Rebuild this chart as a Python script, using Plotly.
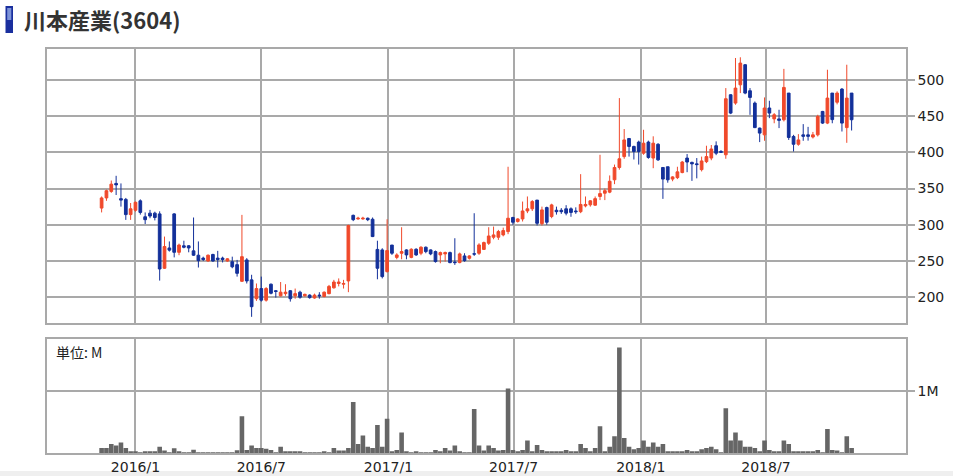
import pandas as pd
import plotly.graph_objects as go

# ---- data (weekly) ----
dates = pd.date_range("2015-11-13", periods=156, freq="7D")

opens = [323, 337, 346, 357, 336, 335, 314, 320, 333, 311, 316, 316, 315, 240, 268, 315, 262, 271, 271, 264,
         258, 254, 250, 259, 254, 254, 250, 249, 245, 222, 251.5, 224, 198, 212, 196, 218, 209, 202, 205, 209,
         202, 207, 202, 203, 199, 203, 201, 205, 213, 219, 218, 222.5, 313, 308, 308, 309, 307.6, 266, 265.3, 235.4,
         272, 255, 260.7, 265.3, 255, 266.2, 260.7, 269, 265.3, 263, 258.4, 259.8, 261.6, 248.5, 247.8, 257, 253.8, 260, 260.7, 266,
         274.5, 282.8, 282.8, 286, 290.6, 310, 304.5, 308, 319, 322, 334, 301.5, 323.7, 311.3, 320, 320, 322, 322, 319, 318,
         326, 327.5, 327, 339, 343.5, 345, 362, 379, 394, 419, 408, 414, 398.7, 414, 392, 411, 379, 380, 363, 365,
         372, 392, 386, 384, 376, 387, 392, 409, 401, 396.5, 479.3, 467.8, 493, 520.7, 484.8, 467.8, 433.3, 424, 461, 446,
         446, 444.8, 481.6, 421.8, 411, 424, 424, 421, 424, 456.3, 440.2, 481.6, 469, 487.1, 434, 481.6]
highs = [339, 348.5, 361, 367.5, 357, 337, 330, 332, 335, 317, 320.5, 318, 318.5, 283.7, 277, 316, 274, 278, 272, 310,
         277, 256, 259, 260, 264, 256, 254, 256, 251.5, 313.6, 254, 231, 219, 228.5, 214, 219, 210, 221, 218, 210,
         212, 209, 205, 204, 205, 207, 208, 217, 224, 226, 224, 300, 314, 311, 311, 310, 310, 278, 267.6, 307.6,
         272, 260.7, 296.6, 266.2, 267.6, 267.6, 270.4, 270, 266, 264.4, 263, 263, 263, 281.4, 261.6, 260.7, 258, 315.9, 274.5, 276.8,
         296.6, 297.5, 292.9, 296, 380, 311, 309, 332, 339, 334, 334, 325, 325, 329, 325, 323, 327, 324, 324, 369.8,
         339, 334, 339, 396.5, 350, 368, 383, 474.7, 432, 419, 409, 416, 431, 416, 422, 412.5, 379, 380, 367, 380,
         388, 397.5, 387, 392, 394, 409, 410, 415, 403, 488.5, 480, 530, 531, 521.6, 488.5, 470, 434, 475.6, 471, 454,
         458.6, 515, 481.6, 424, 425, 438.8, 435, 428, 451.7, 457, 513.8, 481.6, 484, 488.5, 520.7, 481.6]
lows = [317, 333, 344, 341, 325, 306.7, 306.7, 318, 314, 301, 309, 306, 223, 239, 263, 255, 258, 267.5, 262, 257,
        241, 250, 249, 249, 241, 248, 249, 240, 228.5, 221, 219, 173, 195, 194, 194, 204, 199.5, 201, 202, 194,
        198, 198, 201, 198, 198, 198, 200, 204, 212, 215, 212, 207, 305, 307, 307, 305, 283, 224.8, 226, 234,
        258.4, 252.4, 252.4, 252.4, 253.8, 257, 258, 260.7, 258, 247.8, 246.9, 249.2, 246.9, 244.6, 246.9, 249, 252, 257, 258.4, 265.3,
        272.2, 280, 279.1, 284, 287, 300, 303, 304.5, 316, 319, 299, 299, 300, 309, 314, 315, 313, 311, 315, 316,
        324, 325, 326, 334, 334, 343.5, 356, 376, 391, 394, 390, 383, 396.5, 391, 378, 388, 335.7, 358, 360, 363,
        371, 372.5, 360.5, 364, 373.5, 385, 389, 396, 399, 391, 452.6, 465.5, 481.6, 480, 451.6, 433.3, 414, 415.8, 447, 440,
        433.3, 442.5, 417, 401, 409, 415.8, 416, 419, 421.8, 439, 438.8, 440, 466, 428.6, 413, 430]
closes = [337, 347, 356, 355, 334, 314, 322, 331, 317, 307, 312, 310, 239, 270, 265, 262, 272, 269, 268, 258,
          250.5, 252, 258, 250, 252, 252, 253, 242, 233, 256, 222.5, 187, 212, 196, 212, 205.5, 208, 207, 207, 198,
          205, 200, 204, 199.5, 203, 202, 207, 215, 221, 221, 219, 299, 307, 309, 309, 307, 283.7, 240, 228.5, 264.4,
          260.7, 258.4, 263, 258.4, 266.2, 258.4, 269, 263, 259.8, 249.2, 261.6, 261.6, 247.8, 247.8, 259.8, 250.5, 257, 259.5, 272.2, 275.4,
          284.5, 286, 290.6, 292, 309, 303.5, 308, 319, 322, 332, 302, 320.5, 303.5, 327.4, 318, 318, 316, 317, 318, 328,
          328, 333, 336, 343, 347, 360, 379, 391, 417, 408, 401, 401, 412.5, 392.8, 412.5, 389.5, 363, 362, 366, 373,
          386.5, 386.5, 384, 383, 388, 394, 404.5, 398.7, 400, 473.8, 454, 488.5, 523, 481.6, 475.6, 434, 426.4, 461, 454, 451.7,
          444, 489.4, 420.4, 411, 417, 422, 422, 424, 449.4, 440.2, 474.7, 445, 481.6, 440.2, 474.7, 444.8]
volume_k = [80, 80, 145, 120, 170, 80, 30, 20, 10, 30, 30, 30, 100, 40, 10, 75, 20, 10, 10, 53,
            10, 10, 10, 10, 10, 10, 10, 10, 43, 590, 50, 120, 80, 80, 70, 50, 10, 100, 20, 30,
            30, 30, 10, 10, 10, 10, 30, 10, 80, 40, 40, 80, 820, 145, 280, 100, 80, 450, 100, 550,
            30, 50, 330, 30, 10, 30, 10, 10, 10, 50, 30, 80, 40, 120, 30, 10, 10, 710, 120, 40,
            120, 80, 40, 50, 1040, 50, 30, 50, 200, 30, 130, 50, 30, 20, 20, 20, 50, 20, 20, 145,
            80, 30, 80, 430, 30, 100, 270, 1700, 240, 100, 60, 80, 200, 100, 170, 100, 145, 30, 20, 20,
            20, 50, 30, 30, 60, 80, 100, 60, 10, 720, 200, 330, 200, 100, 100, 80, 30, 200, 50, 30,
            30, 200, 145, 30, 30, 30, 20, 20, 50, 10, 385, 50, 40, 10, 270, 80]
volume = [v * 1000 for v in volume_k]

price_ticks = [200, 250, 300, 350, 400, 450, 500]
date_ticks = ["2016-01-01", "2016-07-01", "2017-01-01", "2017-07-01", "2018-01-01", "2018-07-01"]
date_tick_labels = ["2016/1", "2016/7", "2017/1", "2017/7", "2018/1", "2018/7"]
volume_ticks = [1e6]
volume_tick_labels = ["1M"]
title_text = "川本産業(3604)"
unit_text = "単位: M"

# ---- styling ----
RED = "#f0492b"
BLUE = "#13309a"
GRID = "#a9a9a9"
W, H = 953, 476
L, R, T, B = 47, 47, 49, 23
PW, PH = W - L - R, H - T - B


def px(x):
    return (x - L) / PW


def py(y):
    return (H - B - y) / PH


fig = go.Figure()
fig.add_trace(go.Candlestick(
    x=dates, open=opens, high=highs, low=lows, close=closes,
    increasing=dict(line=dict(color=RED, width=1), fillcolor=RED),
    decreasing=dict(line=dict(color=BLUE, width=1), fillcolor=BLUE),
    whiskerwidth=0, xaxis="x", yaxis="y", showlegend=False,
))
fig.add_trace(go.Bar(
    x=dates, y=volume, marker=dict(color="#666666", line=dict(width=0)),
    xaxis="x2", yaxis="y2", showlegend=False,
))

xr = ["2015-08-26", "2019-01-19 16:00"]
common_x = dict(range=xr, type="date", showgrid=True, gridcolor=GRID, gridwidth=1.5,
                tickvals=date_ticks, ticktext=date_tick_labels, showline=True, mirror=True,
                linecolor=GRID, linewidth=1.5, ticks="", zeroline=False, automargin=False)
common_y = dict(side="right", ticks="outside", ticklen=7, tickcolor=GRID, tickwidth=1.5,
                showgrid=True, gridcolor=GRID, gridwidth=1.5, showline=True, mirror=True,
                linecolor=GRID, linewidth=1.5, zeroline=False, automargin=False,
                tickfont=dict(size=14, color="#222222"))

fig.update_layout(
    width=W, height=H,
    margin=dict(l=L, r=R, t=T, b=B, autoexpand=False),
    paper_bgcolor="white", plot_bgcolor="white",
    boxgap=0.2, bargap=0.05,
    font=dict(family="DejaVu Sans", size=13, color="#222222"),
    xaxis=dict(domain=[0, 1], anchor="y", showticklabels=False,
               rangeslider=dict(visible=False), **common_x),
    xaxis2=dict(domain=[0, 1], anchor="y2", matches="x", showticklabels=True,
                tickfont=dict(size=14, color="#222222"), **common_x),
    yaxis=dict(domain=[py(323), 1], range=[164.5, 542.4], tickvals=price_ticks, **common_y),
    yaxis2=dict(domain=[0, py(339.3)], range=[0, 1.83e6],
                tickvals=volume_ticks, ticktext=volume_tick_labels, **common_y),
    shapes=[
        dict(type="rect", xref="paper", yref="paper", x0=px(0), x1=px(W), y0=py(H), y1=py(471),
             fillcolor="#efefef", line=dict(width=0), layer="below"),
        dict(type="rect", xref="paper", yref="paper", x0=px(5.5), x1=px(13), y0=py(33), y1=py(6),
             fillcolor="#1a2f9e", line=dict(width=0)),
        dict(type="rect", xref="paper", yref="paper", x0=px(7.2), x1=px(11.3), y0=py(20), y1=py(8),
             fillcolor="#7d93d8", line=dict(width=0)),
    ],
    annotations=[
        dict(text="<b>" + title_text + "</b>", xref="paper", yref="paper", x=px(22), y=py(18.5),
             xanchor="left", yanchor="middle", showarrow=False,
             font=dict(family="Noto Sans CJK JP", size=22, color="#333333")),
        dict(text=unit_text, xref="paper", yref="paper", x=px(54), y=py(352),
             xanchor="left", yanchor="middle", showarrow=False,
             font=dict(family="Noto Sans CJK JP", size=14, color="#222222")),
    ],
)

fig.write_html(
    "out.html",
    config={"displayModeBar": False},
    post_script="document.body.style.margin='0';document.body.style.overflow='hidden';",
)
